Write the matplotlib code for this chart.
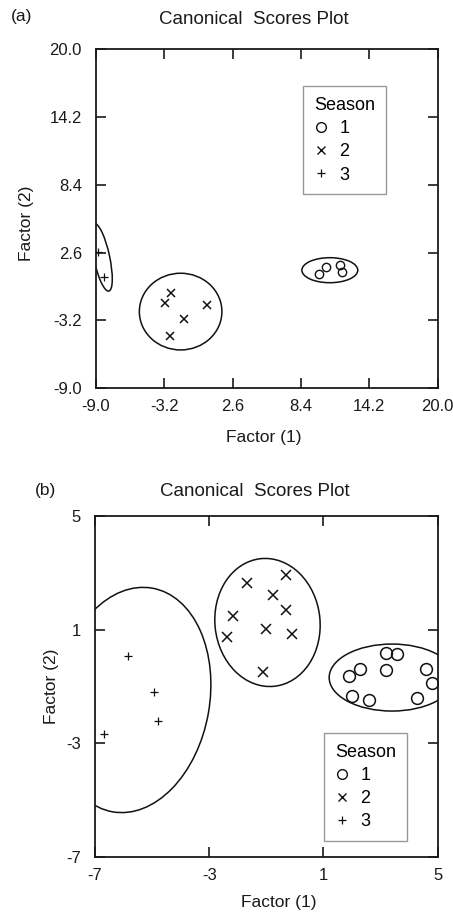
import matplotlib
matplotlib.use("Agg")
import matplotlib.pyplot as plt
from matplotlib.patches import Ellipse
from matplotlib.lines import Line2D

plt.rcParams['font.family'] = ['Liberation Sans', 'DejaVu Sans']
plt.rcParams['axes.unicode_minus'] = False

# ---------------- Panel (a) data ----------------
a_s1_x = [9.94, 10.50, 11.72, 11.92]
a_s1_y = [0.78, 1.40, 1.55, 0.98]
a_s2_x = [-3.12, -2.64, -1.48, 0.47, -2.70]
a_s2_y = [-1.73, -0.87, -3.07, -1.87, -4.53]
a_s3_x = [-8.78, -8.27]
a_s3_y = [2.63, 0.55]
# ellipses: (center x, center y, width, height, angle)
a_ell_s1 = (10.85, 1.10, 4.74, 2.14, 0)
a_ell_s2 = (-1.80, -2.44, 7.00, 6.56, 0)
a_ell_s3 = (-8.50, 2.20, 1.36, 5.90, 12)
a_ticks = [-9.0, -3.2, 2.6, 8.4, 14.2, 20.0]

# ---------------- Panel (b) data ----------------
b_s1_x = [3.19, 3.56, 2.28, 1.90, 3.19, 4.59, 4.80, 1.99, 2.60, 4.29]
b_s1_y = [0.16, 0.14, -0.40, -0.64, -0.42, -0.40, -0.87, -1.34, -1.48, -1.42]
b_s2_x = [-1.67, -0.32, -0.78, -2.18, -0.32, -1.02, -2.39, -0.10, -1.11]
b_s2_y = [2.65, 2.92, 2.21, 1.49, 1.70, 1.02, 0.74, 0.85, -0.48]
b_s3_x = [-5.83, -4.92, -4.80, -6.68]
b_s3_y = [0.08, -1.19, -2.22, -2.69]
b_ell_s1 = (3.40, -0.69, 4.40, 2.36, 0)
b_ell_s2 = (-0.96, 1.25, 3.68, 4.52, 6)
b_ell_s3 = (-5.69, -1.48, 5.40, 8.00, -10)
b_ticks = [-7, -3, 1, 5]

season_labels = ['1', '2', '3']

fig = plt.figure(figsize=(4.53, 9.19), dpi=100)
axA = fig.add_axes([0.2113, 0.5775, 0.7550, 0.3689])
axB = fig.add_axes([0.2097, 0.0678, 0.7565, 0.3707])


def style_axes(ax, ticks, fmt):
    ax.set_xlim(ticks[0], ticks[-1])
    ax.set_ylim(ticks[0], ticks[-1])
    ax.set_xticks(ticks)
    ax.set_yticks(ticks)
    ax.set_xticklabels([fmt % t for t in ticks])
    ax.set_yticklabels([fmt % t for t in ticks])
    ax.tick_params(direction='in', length=7, width=1.2, top=True, right=True,
                   labelsize=12, colors='#1a1a1a')
    ax.tick_params(axis='x', pad=8)
    ax.tick_params(axis='y', pad=10)
    for sp in ax.spines.values():
        sp.set_linewidth(1.3)
        sp.set_color('#1a1a1a')


def draw_ellipses(ax, ells):
    for (cx, cy, w, h, ang) in ells:
        ax.add_patch(Ellipse((cx, cy), w, h, angle=ang, fill=False,
                             edgecolor='#111111', linewidth=1.1))


def add_legend(ax, anchor):
    handles = [
        Line2D([], [], ls='none', marker='o', mfc='none', mec='#111111', ms=7, mew=1.0),
        Line2D([], [], ls='none', marker='x', mec='#111111', ms=6, mew=1.0),
        Line2D([], [], ls='none', marker='+', mec='#111111', ms=6, mew=0.9),
    ]
    leg = ax.legend(handles, season_labels, title='Season', loc='upper left',
                    bbox_to_anchor=anchor, fontsize=13, title_fontsize=13,
                    frameon=True, fancybox=False, borderaxespad=0,
                    handlelength=0.8, handletextpad=0.6, labelspacing=0.35,
                    borderpad=0.6, alignment='left')
    fr = leg.get_frame()
    fr.set_edgecolor('#808080')
    fr.set_linewidth(1.0)
    return leg


# Panel (a)
style_axes(axA, a_ticks, '%.1f')
draw_ellipses(axA, [a_ell_s1, a_ell_s2, a_ell_s3])
axA.plot(a_s1_x, a_s1_y, ls='none', marker='o', mfc='none', mec='#111111', ms=6, mew=1.0)
axA.plot(a_s2_x, a_s2_y, ls='none', marker='x', mec='#111111', ms=6, mew=1.1)
axA.plot(a_s3_x, a_s3_y, ls='none', marker='+', mec='#111111', ms=6, mew=0.9)
add_legend(axA, (0.607, 0.892))
axA.set_xlabel('Factor (1)', fontsize=12.5, color='#1a1a1a')
axA.set_ylabel('Factor (2)', fontsize=12.5, color='#1a1a1a')
axA.xaxis.set_label_coords(0.49, -0.124)
axA.yaxis.set_label_coords(-0.18, 0.487)
fig.text(254 / 453, 1 - 19 / 919, 'Canonical  Scores Plot', ha='center', va='center',
         fontsize=13.5, color='#1a1a1a')
fig.text(22 / 453, 1 - 17 / 919, '(a)', ha='center', va='center', fontsize=12.5,
         color='#1a1a1a')

# Panel (b)
style_axes(axB, b_ticks, '%d')
draw_ellipses(axB, [b_ell_s1, b_ell_s2, b_ell_s3])
axB.plot(b_s1_x, b_s1_y, ls='none', marker='o', mfc='none', mec='#111111', ms=8.5, mew=1.1)
axB.plot(b_s2_x, b_s2_y, ls='none', marker='x', mec='#111111', ms=6.5, mew=1.1)
axB.plot(b_s3_x, b_s3_y, ls='none', marker='+', mec='#111111', ms=6, mew=0.9)
add_legend(axB, (0.669, 0.364))
axB.set_xlabel('Factor (1)', fontsize=12.5, color='#1a1a1a')
axB.set_ylabel('Factor (2)', fontsize=12.5, color='#1a1a1a')
axB.xaxis.set_label_coords(0.535, -0.113)
axB.yaxis.set_label_coords(-0.106, 0.5)
fig.text(255 / 453, 1 - 491.5 / 919, 'Canonical  Scores Plot', ha='center', va='center',
         fontsize=13.5, color='#1a1a1a')
fig.text(46 / 453, 1 - 490 / 919, '(b)', ha='center', va='center', fontsize=12.5,
         color='#1a1a1a')

fig.savefig('out.png', dpi=100)
